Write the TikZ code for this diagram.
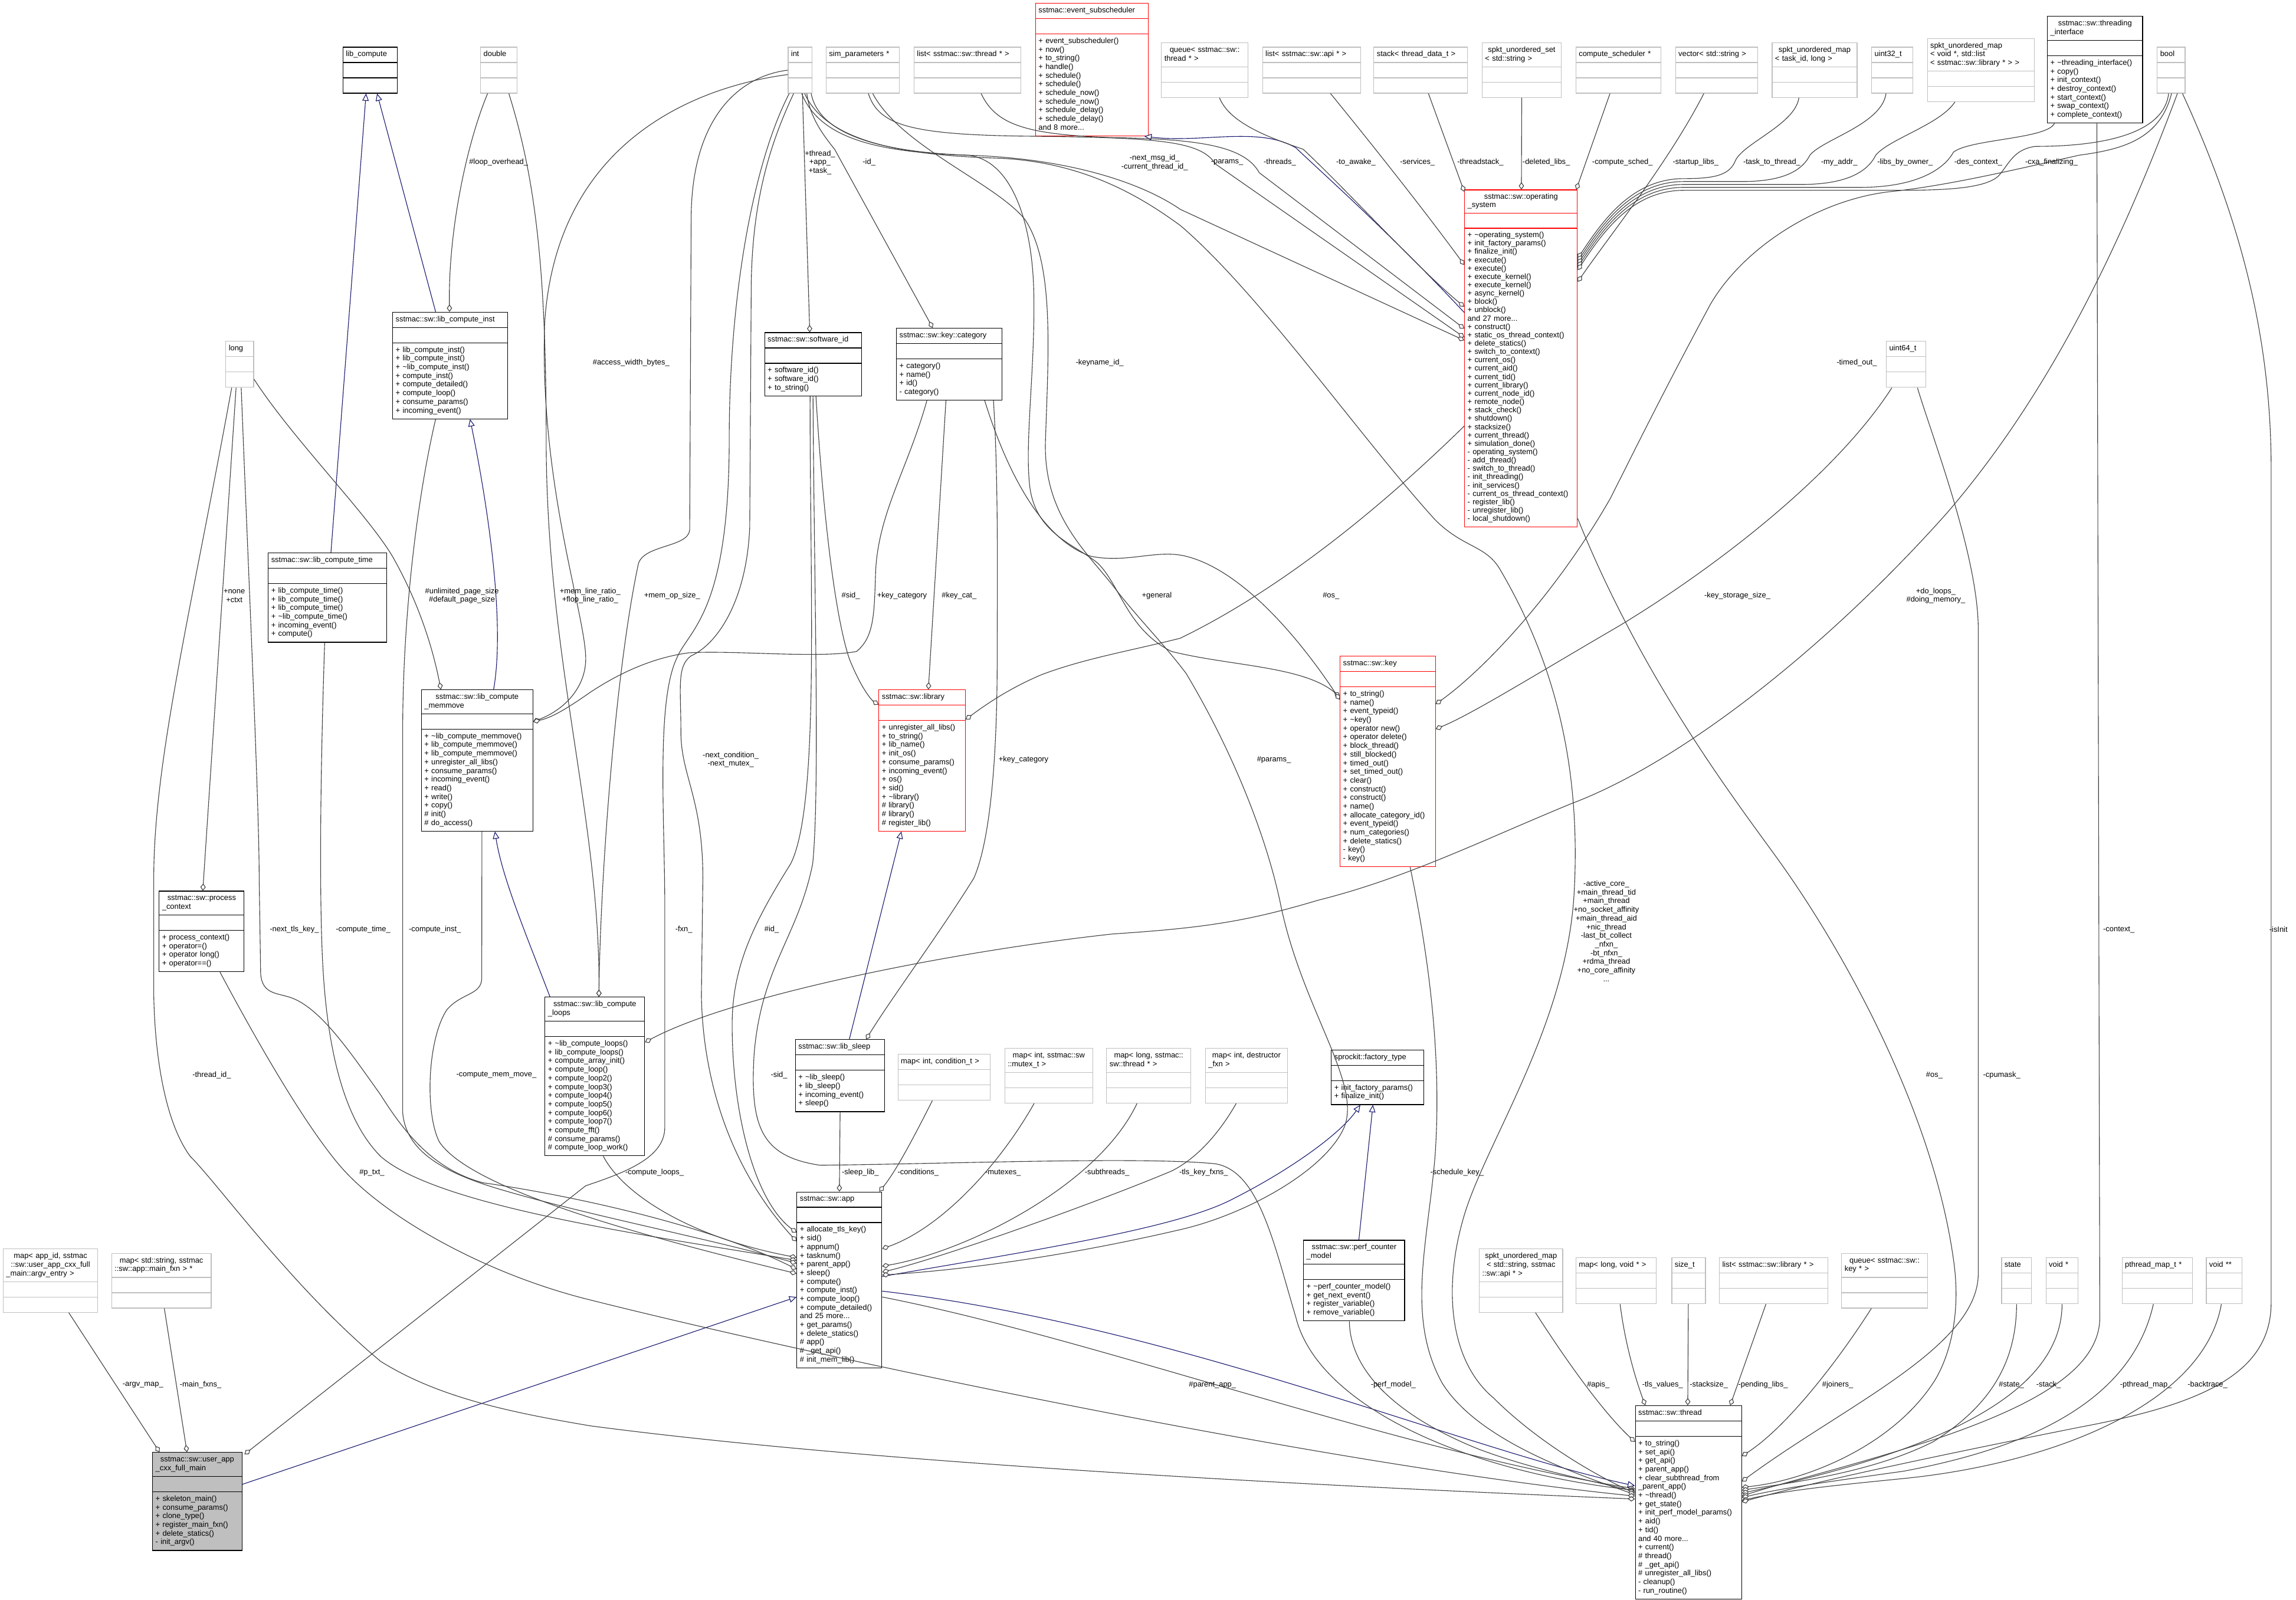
\documentclass[tikz,border=0pt]{standalone}
\usepackage{fontspec}
\setmainfont{Liberation Sans}
\usetikzlibrary{arrows.meta, shapes.multipart, calc}

\definecolor{edgegray}{RGB}{64,64,64}
\definecolor{inhblue}{RGB}{25,25,112}
\definecolor{extgray}{RGB}{191,191,191}
\definecolor{truncred}{RGB}{255,0,0}
\definecolor{focusgray}{RGB}{191,191,191}
\newcommand{\dtor}{\textasciitilde}
% empty attribute compartment, then the member list
\newcommand{\members}{\nodepart{second}\strut\nodepart{third}\strut}

\begin{document}
\begin{tikzpicture}[x=1pt, y=-1pt,
    every node/.style={font=\fontsize{5.2}{5.92}\selectfont},
    cls/.style={rectangle split, rectangle split parts=3, draw=black,
        line width=0.45pt, anchor=north west, inner xsep=2pt, inner ysep=2.05pt,
        text width={(#1-4)*1pt}, align=left,
        execute at begin node=\strut, execute at end node=\strut},
    ext/.style={cls=#1, draw=extgray},
    trunc/.style={cls=#1, draw=truncred},
    focus/.style={cls=#1, fill=focusgray},
    lbl/.style={align=center, inner sep=0pt},
    use/.style={draw=edgegray, line width=0.45pt,
        -{Diamond[fill=white, length=5pt, width=3.6pt]}},
    inh/.style={draw=inhblue, line width=0.45pt,
        -{Triangle[fill=white, length=5pt, width=4.4pt]}}
]
\fill[white] (0,0) rectangle (1568,1093);
\useasboundingbox (0,0) rectangle (1568,1093);

% top row
\node[cls=37] (libcomp) at (234,32) {\centering lib\_compute \members};
\node[ext=25] (dbl) at (328,32) {\centering double \members};
\node[ext=16.5] (int) at (538,32) {\centering int \members};
\node[ext=50] (simp) at (564,32) {\centering sim\_parameters * \members};
\node[ext=73] (lthread) at (624,32) {\centering list< sstmac::sw::thread * > \members};
\node[trunc=77] (evsub) at (707,2) {\centering sstmac::event\_subscheduler \members
    + event\_subscheduler()\\+ now()\\+ to\_string()\\+ handle()\\+ schedule()\\+ schedule()\\+ schedule\_now()\\+ schedule\_now()\\+ schedule\_delay()\\+ schedule\_delay()\\and 8 more...};
\node[ext=59] (qthread) at (793,29) {\centering queue< sstmac::sw::\\thread * > \members};
\node[ext=67] (lapi) at (862,32) {\centering list< sstmac::sw::api * > \members};
\node[ext=64] (stk) at (938,32) {\centering stack< thread\_data\_t > \members};
\node[ext=54] (uset) at (1012,29) {\centering spkt\_unordered\_set\\< std::string > \members};
\node[ext=58] (csched) at (1076,32) {\centering compute\_scheduler * \members};
\node[ext=56] (vecstr) at (1144,32) {\centering vector< std::string > \members};
\node[ext=58] (tmap) at (1210,29) {\centering spkt\_unordered\_map\\< task\_id, long > \members};
\node[ext=28] (u32) at (1278,32) {\centering uint32\_t \members};
\node[ext=73] (lmap) at (1316,26) {spkt\_unordered\_map\\< void *, std::list\\< sstmac::sw::library * > > \members};
\node[cls=65] (tif) at (1398,11) {\centering sstmac::sw::threading\\\_interface \members
    + \dtor threading\_interface()\\+ copy()\\+ init\_context()\\+ destroy\_context()\\+ start\_context()\\+ swap\_context()\\+ complete\_context()};
\node[ext=19] (bool) at (1473,32) {\centering bool \members};

% middle
\node[cls=78.5] (inst) at (268,213) {\centering sstmac::sw::lib\_compute\_inst \members
    + lib\_compute\_inst()\\+ lib\_compute\_inst()\\+ \dtor lib\_compute\_inst()\\+ compute\_inst()\\+ compute\_detailed()\\+ compute\_loop()\\+ consume\_params()\\+ incoming\_event()};
\node[ext=19] (long) at (154,233) {\centering long \members};
\node[cls=66] (swid) at (522,227) {\centering sstmac::sw::software\_id \members
    + software\_id()\\+ software\_id()\\+ to\_string()};
\node[cls=72] (cat) at (612,224) {\centering sstmac::sw::key::category \members
    + category()\\+ name()\\+ id()\\- category()};
\node[trunc=77, font=\fontsize{5.2}{5.7}\selectfont] (os) at (1000,129.5) {\centering sstmac::sw::operating\\\_system \members
    + \dtor operating\_system()\\+ init\_factory\_params()\\+ finalize\_init()\\+ execute()\\+ execute()\\+ execute\_kernel()\\+ execute\_kernel()\\+ async\_kernel()\\+ block()\\+ unblock()\\and 27 more...\\+ construct()\\+ static\_os\_thread\_context()\\+ delete\_statics()\\+ switch\_to\_context()\\+ current\_os()\\+ current\_aid()\\+ current\_tid()\\+ current\_library()\\+ current\_node\_id()\\+ remote\_node()\\+ stack\_check()\\+ shutdown()\\+ stacksize()\\+ current\_thread()\\+ simulation\_done()\\- operating\_system()\\- add\_thread()\\- switch\_to\_thread()\\- init\_threading()\\- init\_services()\\- current\_os\_thread\_context()\\- register\_lib()\\- unregister\_lib()\\- local\_shutdown()};
\node[ext=27] (u64) at (1288,233) {\centering uint64\_t \members};
\node[cls=81] (ctime) at (183,377.5) {\centering sstmac::sw::lib\_compute\_time \members
    + lib\_compute\_time()\\+ lib\_compute\_time()\\+ lib\_compute\_time()\\+ \dtor lib\_compute\_time()\\+ incoming\_event()\\+ compute()};
\node[cls=76] (memmove) at (287.6,471) {\centering sstmac::sw::lib\_compute\\\_memmove \members
    + \dtor lib\_compute\_memmove()\\+ lib\_compute\_memmove()\\+ lib\_compute\_memmove()\\+ unregister\_all\_libs()\\+ consume\_params()\\+ incoming\_event()\\+ read()\\+ write()\\+ copy()\\\# init()\\\# do\_access()};
\node[trunc=59] (lib) at (600,471) {\centering sstmac::sw::library \members
    + unregister\_all\_libs()\\+ to\_string()\\+ lib\_name()\\+ init\_os()\\+ consume\_params()\\+ incoming\_event()\\+ os()\\+ sid()\\+ \dtor library()\\\# library()\\\# library()\\\# register\_lib()};
\node[trunc=65] (key) at (915,448) {\centering sstmac::sw::key \members
    + to\_string()\\+ name()\\+ event\_typeid()\\+ \dtor key()\\+ operator new()\\+ operator delete()\\+ block\_thread()\\+ still\_blocked()\\+ timed\_out()\\+ set\_timed\_out()\\+ clear()\\+ construct()\\+ construct()\\+ name()\\+ allocate\_category\_id()\\+ event\_typeid()\\+ num\_categories()\\+ delete\_statics()\\- key()\\- key()};
\node[cls=58] (pctx) at (108.5,608.5) {\centering sstmac::sw::process\\\_context \members
    + process\_context()\\+ operator=()\\+ operator long()\\+ operator==()};
\node[cls=68] (loops) at (372,681) {\centering sstmac::sw::lib\_compute\\\_loops \members
    + \dtor lib\_compute\_loops()\\+ lib\_compute\_loops()\\+ compute\_array\_init()\\+ compute\_loop()\\+ compute\_loop2()\\+ compute\_loop3()\\+ compute\_loop4()\\+ compute\_loop5()\\+ compute\_loop6()\\+ compute\_loop7()\\+ compute\_fft()\\\# consume\_params()\\\# compute\_loop\_work()};
\node[cls=61] (sleep) at (543,710) {\centering sstmac::sw::lib\_sleep \members
    + \dtor lib\_sleep()\\+ lib\_sleep()\\+ incoming\_event()\\+ sleep()};
\node[ext=63] (mcond) at (613,720) {\centering map< int, condition\_t > \members};
\node[ext=60] (mmutex) at (686,716) {\centering map< int, sstmac::sw\\::mutex\_t > \members};
\node[ext=57.5] (mthr) at (755.5,716) {\centering map< long, sstmac::\\sw::thread * > \members};
\node[ext=56] (mdtor) at (823,716) {\centering map< int, destructor\\\_fxn > \members};
\node[cls=63] (factory) at (909,717) {\centering sprockit::factory\_type \members
    + init\_factory\_params()\\+ finalize\_init()};
\node[cls=58] (app) at (544,814) {\centering sstmac::sw::app \members
    + allocate\_tls\_key()\\+ sid()\\+ appnum()\\+ tasknum()\\+ parent\_app()\\+ sleep()\\+ compute()\\+ compute\_inst()\\+ compute\_loop()\\+ compute\_detailed()\\and 25 more...\\+ get\_params()\\+ delete\_statics()\\\# app()\\\# \_get\_api()\\\# init\_mem\_lib()};
\node[cls=69] (perf) at (890,847) {\centering sstmac::sw::perf\_counter\\\_model \members
    + \dtor perf\_counter\_model()\\+ get\_next\_event()\\+ register\_variable()\\+ remove\_variable()};

% bottom row
\node[ext=64.5] (argvmap) at (2,853) {\centering map< app\_id, sstmac\\::sw::user\_app\_cxx\_full\\\_main::argv\_entry > \members};
\node[ext=68] (mainfxns) at (76,856) {\centering map< std::string, sstmac\\::sw::app::main\_fxn > * \members};
\node[ext=57] (apimap) at (1010,853) {\centering spkt\_unordered\_map\\< std::string, sstmac\\::sw::api * > \members};
\node[ext=55] (tlsmap) at (1076,859) {\centering map< long, void * > \members};
\node[ext=23] (sizet) at (1141.5,859) {\centering size\_t \members};
\node[ext=74] (llib) at (1174,859) {\centering list< sstmac::sw::library * > \members};
\node[ext=58.5] (qkey) at (1257.5,856) {\centering queue< sstmac::sw::\\key * > \members};
\node[ext=20.5] (state) at (1366.7,859) {\centering state \members};
\node[ext=22] (vptr) at (1397,859) {\centering void * \members};
\node[ext=48] (pmap) at (1449,859) {\centering pthread\_map\_t * \members};
\node[ext=24.5] (vpp) at (1506.5,859) {\centering void ** \members};
\node[focus=61] (userapp) at (104,992) {\centering sstmac::sw::user\_app\\\_cxx\_full\_main \members
    + skeleton\_main()\\+ consume\_params()\\+ clone\_type()\\+ register\_main\_fxn()\\+ delete\_statics()\\- init\_argv()};
\node[cls=72.5] (thread) at (1116.6,960) {\centering sstmac::sw::thread \members
    + to\_string()\\+ set\_api()\\+ get\_api()\\+ parent\_app()\\+ clear\_subthread\_from\\\_parent\_app()\\+ \dtor thread()\\+ get\_state()\\+ init\_perf\_model\_params()\\+ aid()\\+ tid()\\and 40 more...\\+ current()\\\# thread()\\\# \_get\_api()\\\# unregister\_all\_libs()\\- cleanup()\\- run\_routine()};

% inheritance
\draw[inh] ($(inst.north west)+(29.5,0)$) -- ($(libcomp.south west)+(23.5,0)$);
\draw[inh] ($(ctime.north west)+(43,0)$) -- ($(libcomp.south west)+(16,0)$);
\draw[inh] ($(memmove.north west)+(49.5,0)$) .. controls (346,420) and (330,330) .. ($(inst.south west)+(53,0)$);
\draw[inh] ($(loops.north west)+(3.6,0)$) .. controls (360,640) and (343,600) .. ($(memmove.south west)+(50.4,0)$);
\draw[inh] ($(sleep.north west)+(37,0)$) -- ($(lib.south west)+(15.6,0)$);
\draw[inh] ($(os.north west)+(0,84)$) .. controls (950,160) and (905,120) .. (885,101) .. controls (860,86) and (820,98) .. ($(evsub.south east)+(-3,0)$);
\draw[inh] ($(app.north east)+(0,58)$) .. controls (700,855) and (800,840) .. (840,820) .. controls (880,800) and (915,775) .. ($(factory.south west)+(20,0)$);
\draw[inh] ($(perf.north west)+(38,0)$) -- ($(factory.south west)+(28.6,0)$);
\draw[inh] ($(app.north east)+(0,68)$) .. controls (800,905) and (1000,990) .. ($(thread.north west)+(0,55)$);
\draw[inh] ($(userapp.north east)+(0,22)$) -- ($(app.north west)+(0,72)$);

% members of lib_compute classes
\draw[use] ($(dbl.south west)+(5,0)$) .. controls (318,100) and (306,160) .. ($(inst.north west)+(39,0)$);
\draw[use] ($(dbl.south west)+(19.5,0)$) .. controls (365,120) and (373,180) .. (373,300) .. controls (373,450) and (410,560) .. ($(loops.north west)+(37,0)$);
\draw[use] (int.west) .. controls (505,52) and (472,80) .. (472,150) -- (471,362) .. controls (470,374) and (440,372) .. (436,385) .. controls (420,460) and (410,600) .. ($(loops.north west)+(37,0)$);
\draw[use] ($(int.west)+(0,3)$) .. controls (470,60) and (380,100) .. (372,220) .. controls (368,330) and (400,420) .. (400,450) .. controls (400,470) and (385,485) .. ($(memmove.north east)+(0,22)$);
\draw[use] ($(long.north east)+(0,26)$) .. controls (200,300) and (250,350) .. (268,380) .. controls (285,410) and (295,440) .. ($(memmove.north west)+(13.5,0)$);
\draw[use] ($(cat.south west)+(21,0)$) .. controls (620,320) and (600,350) .. (598,390) .. controls (597,420) and (597,435) .. (585,445) .. controls (560,450) and (500,444) .. (470,446) .. controls (440,450) and (415,465) .. (403,473) .. controls (390,482) and (378,490) .. ($(memmove.north east)+(0,22)$);
\draw[use] ($(bool.south west)+(14,0)$) .. controls (1440,190) and (1390,280) .. (1330,350) .. controls (1250,440) and (1150,520) .. (1073,549) .. controls (1010,575) and (960,600) .. (900,615) .. controls (850,630) and (820,634) .. (760,638) .. controls (650,650) and (500,680) .. ($(loops.north east)+(0,31)$);

% software_id, category, library, key
\draw[use] ($(int.south west)+(10,0)$) -- ($(swid.north west)+(31,0)$);
\draw[use] ($(int.south west)+(13,0)$) .. controls (553,80) and (562,92) .. (570,102) -- ($(cat.north west)+(25,0)$);
\draw[use] ($(int.south east)+(-1,0)$) .. controls (560,95) and (610,104) .. (660,106) .. controls (690,108) and (705,150) .. (706,200) .. controls (707,250) and (700,300) .. (703,330) .. controls (706,365) and (735,372) .. (750,385) .. controls (765,400) and (770,430) .. (800,445) .. controls (840,455) and (890,455) .. ($(key.north west)+(0,28)$);
\draw[use] ($(swid.south)+(2,0)$) .. controls (562,350) and (570,420) .. (580,450) .. controls (588,470) and (595,478) .. ($(lib.north west)+(0,10.5)$);
\draw[use] ($(cat.south west)+(34,0)$) -- ($(lib.north west)+(34,0)$);
\draw[use] ($(cat.south east)+(-12,0)$) .. controls (690,330) and (715,370) .. (745,380) .. controls (770,385) and (790,375) .. (810,380) .. controls (850,390) and (890,440) .. ($(key.north west)+(0,30)$);
\draw[use] ($(cat.south east)+(-6,0)$) .. controls (682,330) and (681,400) .. (681,450) .. controls (681,520) and (676,575) .. (665,600) .. controls (640,640) and (610,680) .. ($(sleep.north east)+(-13,0)$);
\draw[use] ($(os.north west)+(0,161.5)$) .. controls (950,340) and (880,400) .. (806,436) .. controls (770,445) and (740,450) .. (711,461) .. controls (690,470) and (675,480) .. ($(lib.north east)+(0,20.5)$);
\draw[use] ($(bool.south west)+(10,0)$) .. controls (1475,95) and (1450,102) .. (1420,106) .. controls (1380,115) and (1330,127) .. (1290,131) .. controls (1240,137) and (1190,170) .. (1168,208) .. controls (1140,260) and (1120,300) .. (1100,340) .. controls (1060,410) and (1010,460) .. ($(key.north east)+(0,33)$);
\draw[use] ($(u64.south west)+(4,0)$) .. controls (1250,330) and (1160,395) .. (1105,428) .. controls (1050,460) and (1005,488) .. ($(key.north east)+(0,50)$);

% operating_system members
\draw[use] ($(int.south)+(1,0)$) .. controls (560,95) and (600,104) .. (660,106) .. controls (730,108) and (780,125) .. (806,143) -- ($(os.north west)+(0,103)$);
\draw[use] ($(simp.south west)+(29,0)$) .. controls (600,85) and (620,92) .. (700,93) .. controls (790,94) and (820,96) .. (830,112) -- ($(os.north west)+(0,101)$);
\draw[use] ($(lthread.south west)+(46,0)$) .. controls (680,85) and (700,92) .. (760,94) .. controls (820,95) and (850,100) .. (860,118) -- ($(os.north west)+(0,95)$);
\draw[use] ($(qthread.south west)+(39.8,0)$) .. controls (840,85) and (870,95) .. (890,102) .. controls (920,130) and (970,185) .. ($(os.north west)+(0,80)$);
\draw[use] ($(lapi.south west)+(46.6,0)$) .. controls (930,90) and (970,140) .. ($(os.north west)+(0,51.5)$);
\draw[use] ($(stk.south west)+(37.5,0)$) -- ($(os.north west)+(0,1.5)$);
\draw[use] (uset.south) -- ($(os.north west)+(39,0)$);
\draw[use] ($(csched.south west)+(23.5,0)$) -- ($(os.north east)+(-1,0)$);
\draw[use] ($(vecstr.south west)+(19.6,0)$) .. controls (1140,110) and (1100,160) .. ($(os.north east)+(0,63)$);
\draw[use] ($(tmap.south west)+(18.5,0)$) .. controls (1226,85) and (1190,98) .. (1185,110) .. controls (1181,120) and (1170,122) .. (1150,122) .. controls (1115,122) and (1095,150) .. ($(os.north east)+(0,47)$);
\draw[use] ($(u32.south west)+(10,0)$) .. controls (1285,85) and (1245,95) .. (1236,106) .. controls (1230,118) and (1215,124) .. (1190,124) -- (1150,124) .. controls (1115,124) and (1095,152) .. ($(os.north east)+(0,49)$);
\draw[use] ($(lmap.south west)+(19,0)$) .. controls (1325,85) and (1290,95) .. (1281,106) .. controls (1275,118) and (1260,126) .. (1230,126) -- (1150,126) .. controls (1115,126) and (1095,154) .. ($(os.north east)+(0,51)$);
\draw[use] ($(tif.south west)+(5,0)$) .. controls (1398,95) and (1345,95) .. (1334,104) .. controls (1328,115) and (1310,128) .. (1270,128) -- (1150,128) .. controls (1115,128) and (1095,156) .. ($(os.north east)+(0,53)$);
\draw[use] ($(bool.south west)+(8,0)$) .. controls (1478,90) and (1440,100) .. (1390,100) .. controls (1375,102) and (1372,112) .. (1365,120) .. controls (1355,130) and (1320,130) .. (1290,130) -- (1150,130) .. controls (1115,130) and (1095,158) .. ($(os.north east)+(0,55)$);

% members of app
\draw[use] ($(swid.south)+(-2,0)$) .. controls (553,400) and (560,550) .. (540,590) .. controls (515,630) and (500,660) .. (500,700) .. controls (500,760) and (515,820) .. ($(app.north west)+(0,28)$);
\draw[use] ($(int.south west)+(4,0)$) .. controls (525,100) and (513,140) .. (513,200) -- (512,360) .. controls (510,410) and (490,440) .. (472,448) .. controls (462,455) and (465,470) .. (465,500) .. controls (465,530) and (480,545) .. (480,600) -- (479,680) .. controls (480,740) and (500,800) .. ($(app.north west)+(0,34)$);
\draw[use] ($(loops.south west)+(40,0)$) .. controls (425,815) and (470,845) .. ($(app.north west)+(0,45)$);
\draw[use] ($(ctime.south)+(-2,0)$) .. controls (219,520) and (218,600) .. (220,650) .. controls (222,700) and (230,760) .. (260,790) .. controls (300,825) and (450,845) .. ($(app.north west)+(0,47)$);
\draw[use] ($(inst.south west)+(29.5,0)$) .. controls (285,340) and (275,420) .. (275,500) -- (275,760) .. controls (277,785) and (300,800) .. (340,812) .. controls (400,830) and (480,845) .. ($(app.north west)+(0,49)$);
\draw[use] ($(long.south)+(1,0)$) .. controls (170,400) and (177,550) .. (177,600) -- (178,665) .. controls (179,680) and (190,678) .. (200,682) .. controls (220,690) and (240,720) .. (260,748) .. controls (280,780) and (300,800) .. (330,808) .. controls (380,815) and (480,835) .. ($(app.north west)+(0,53)$);
\draw[use] ($(memmove.south west)+(41.5,0)$) -- (329,668) .. controls (329,680) and (315,678) .. (305,690) .. controls (292,710) and (290,760) .. (300,780) .. controls (320,810) and (420,840) .. ($(app.north west)+(0,56)$);
\draw[use] (sleep.south) -- (app.north);
\draw[use] ($(mcond.south)+(-8,0)$) .. controls (625,775) and (612,800) .. ($(app.north east)+(-2,0)$);
\draw[use] ($(mmutex.south)+(-10,0)$) .. controls (680,800) and (640,840) .. ($(app.north east)+(0,39)$);
\draw[use] ($(mthr.south)+(-8,0)$) .. controls (750,810) and (660,855) .. ($(app.north east)+(0,51)$);
\draw[use] ($(mdtor.south)+(-7,0)$) .. controls (835,770) and (820,790) .. (800,800) .. controls (740,825) and (640,860) .. ($(app.north east)+(0,55)$);
\draw[use] ($(simp.south west)+(32,0)$) .. controls (615,100) and (680,125) .. (700,150) .. controls (720,180) and (716,240) .. (714,300) .. controls (712,350) and (740,375) .. (760,400) .. controls (775,420) and (795,440) .. (810,460) .. controls (840,510) and (865,570) .. (875,620) .. controls (890,690) and (930,740) .. (918,770) .. controls (905,800) and (850,830) .. (806,840) .. controls (720,860) and (650,868) .. ($(app.north east)+(0,57)$);

% members of user_app_cxx_full_main
\draw[use] ($(argvmap.south)+(12.5,0)$) -- ($(userapp.north west)+(5,0)$);
\draw[use] ($(mainfxns.south)+(2,0)$) -- ($(userapp.north west)+(23.7,0)$);
\draw[use] ($(int.south west)+(1,0)$) .. controls (515,110) and (498,200) .. (498,300) .. controls (498,420) and (470,430) .. (462,450) .. controls (448,480) and (454,560) .. (454,620) -- (454,770) .. controls (454,790) and (430,800) .. (400,810) -- ($(userapp.north east)+(1.5,1.5)$);
\draw[use] ($(long.south)+(-2.5,0)$) -- ($(pctx.north west)+(30,0)$);

% members of thread, left side
\draw[use] ($(app.north east)+(0,72)$) .. controls (750,915) and (950,990) .. ($(thread.north west)+(0,57)$);
\draw[use] ($(swid.south)+(0,0)$) .. controls (556,400) and (560,540) .. (555,590) .. controls (545,640) and (520,660) .. (515,720) .. controls (512,770) and (520,790) .. (560,796) .. controls (650,795) and (780,790) .. (830,795) .. controls (860,800) and (870,850) .. (885,900) .. controls (900,960) and (1000,1005) .. ($(thread.north west)+(0,58)$);
\draw[use] ($(perf.south west)+(31.5,0)$) .. controls (922,940) and (960,970) .. (1010,990) .. controls (1050,1005) and (1090,1012) .. ($(thread.north west)+(0,59)$);
\draw[use] ($(int.south)+(3,0)$) .. controls (565,98) and (620,106) .. (680,108) .. controls (740,110) and (780,135) .. (806,154) .. controls (860,200) and (930,300) .. (980,355) .. controls (1000,375) and (1015,372) .. (1025,390) .. controls (1060,450) and (1080,520) .. (1075,610) .. controls (1070,700) and (1015,780) .. (1000,830) .. controls (985,880) and (990,930) .. (1020,955) .. controls (1050,985) and (1090,1008) .. ($(thread.north west)+(0,60)$);
\draw[use] ($(key.south west)+(48,0)$) .. controls (975,650) and (985,720) .. (980,790) .. controls (975,850) and (960,900) .. (985,945) .. controls (1010,985) and (1080,1008) .. ($(thread.north west)+(0,61)$);
\draw[use] ($(pctx.south)+(12.5,0)$) .. controls (180,720) and (210,770) .. (231,795) .. controls (260,830) and (330,870) .. (403,888) .. controls (550,925) and (900,1000) .. ($(thread.north west)+(0,62)$);
\draw[use] ($(long.south)+(-5.5,0)$) .. controls (130,420) and (105,520) .. (105,600) -- (105,680) .. controls (106,730) and (115,770) .. (130,790) .. controls (150,810) and (200,880) .. (260,930) .. controls (300,955) and (350,965) .. (403,974) .. controls (600,1000) and (900,1015) .. ($(thread.north west)+(0,64)$);
\draw[use] ($(apimap.south west)+(38.6,0)$) .. controls (1070,930) and (1095,965) .. ($(thread.north west)+(0,25)$);

% members of thread, top and right side
\draw[use] ($(tlsmap.south west)+(30.4,0)$) .. controls (1110,920) and (1118,945) .. ($(thread.north west)+(7,0)$);
\draw[use] ($(sizet.south west)+(11.5,0)$) -- ($(thread.north west)+(36,0)$);
\draw[use] ($(llib.south west)+(32,0)$) -- ($(thread.north west)+(65,0)$);
\draw[use] ($(qkey.south west)+(20.5,0)$) .. controls (1255,930) and (1220,975) .. ($(thread.north east)+(0,34.7)$);
\draw[use] ($(os.south east)+(0,-6)$) .. controls (1120,460) and (1180,540) .. (1212,584) .. controls (1260,650) and (1320,760) .. (1334,860) .. controls (1340,900) and (1330,930) .. (1320,945) .. controls (1290,990) and (1230,1012) .. ($(thread.north east)+(0,56)$);
\draw[use] ($(u64.south east)+(-6,0)$) .. controls (1320,300) and (1351,380) .. (1351,430) -- (1351,870) .. controls (1351,920) and (1260,960) .. ($(thread.north east)+(0,52)$);
\draw[use] (state.south) .. controls (1377,930) and (1360,960) .. (1320,985) .. controls (1280,1005) and (1230,1012) .. ($(thread.north east)+(0,58)$);
\draw[use] (vptr.south) .. controls (1408,950) and (1330,990) .. ($(thread.north east)+(0,60)$);
\draw[use] ($(tif.south west)+(34,0)$) -- (1434,900) .. controls (1434,935) and (1390,960) .. (1322,983) .. controls (1260,1003) and (1220,1012) .. ($(thread.north east)+(0,62)$);
\draw[use] ($(pmap.south west)+(21.6,0)$) .. controls (1455,960) and (1380,990) .. (1300,1005) .. controls (1250,1012) and (1220,1016) .. ($(thread.north east)+(0,63)$);
\draw[use] ($(vpp.south west)+(10.5,0)$) .. controls (1505,960) and (1400,1000) .. (1300,1010) .. controls (1250,1015) and (1220,1018) .. ($(thread.north east)+(0,65)$);
\draw[use] ($(bool.south east)+(-2,0)$) .. controls (1530,150) and (1551,230) .. (1551,320) -- (1551,890) .. controls (1551,940) and (1500,960) .. (1420,975) .. controls (1320,995) and (1240,1012) .. ($(thread.north east)+(0,66)$);

% edge labels
\node[lbl] (l-loopov) at (340.5,111) {\#loop\_overhead\_};
\node[lbl] (l-thrapp) at (560,111) {+thread\_\\+app\_\\+task\_};
\node[lbl] (l-id) at (593.5,111) {-id\_};
\node[lbl] (l-msgid) at (788.5,111) {-next\_msg\_id\_\\-current\_thread\_id\_};
\node[lbl] (l-params) at (838,111) {-params\_};
\node[lbl] (l-threads) at (874,111) {-threads\_};
\node[lbl] (l-toawake) at (926,111) {-to\_awake\_};
\node[lbl] (l-services) at (968,111) {-services\_};
\node[lbl] (l-tstack) at (1011,111) {-threadstack\_};
\node[lbl] (l-dellibs) at (1056,111) {-deleted\_libs\_};
\node[lbl] (l-csched) at (1108,111) {-compute\_sched\_};
\node[lbl] (l-startup) at (1158,111) {-startup\_libs\_};
\node[lbl] (l-t2t) at (1210,111) {-task\_to\_thread\_};
\node[lbl] (l-myaddr) at (1256,111) {-my\_addr\_};
\node[lbl] (l-libsown) at (1301,111) {-libs\_by\_owner\_};
\node[lbl] (l-desctx) at (1351,111) {-des\_context\_};
\node[lbl] (l-cxa) at (1401,111) {-cxa\_finalizing\_};
\node[lbl] (l-access) at (431,248) {\#access\_width\_bytes\_};
\node[lbl] (l-keyname) at (751,248) {-keyname\_id\_};
\node[lbl] (l-timedout) at (1268,248) {-timed\_out\_};
\node[lbl] (l-none) at (160,407) {+none\\+ctxt};
\node[lbl] (l-page) at (315.5,407) {\#unlimited\_page\_size\\\#default\_page\_size};
\node[lbl] (l-ratio) at (403,407) {+mem\_line\_ratio\_\\+flop\_line\_ratio\_};
\node[lbl] (l-opsize) at (459,407) {+mem\_op\_size\_};
\node[lbl] (l-sidlib) at (581,407) {\#sid\_};
\node[lbl] (l-keycat1) at (616,407) {+key\_category};
\node[lbl] (l-keycat) at (655,407) {\#key\_cat\_};
\node[lbl] (l-general) at (790,407) {+general};
\node[lbl] (l-oslib) at (909,407) {\#os\_};
\node[lbl] (l-kstore) at (1186.5,407) {-key\_storage\_size\_};
\node[lbl] (l-doloops) at (1322,407) {+do\_loops\_\\\#doing\_memory\_};
\node[lbl] (l-nextcond) at (499,519) {-next\_condition\_\\-next\_mutex\_};
\node[lbl] (l-keycat2) at (699,519) {+key\_category};
\node[lbl] (l-paramsapp) at (870,519) {\#params\_};
\node[lbl] (l-tlskey) at (201,635) {-next\_tls\_key\_};
\node[lbl] (l-ctime) at (248,635) {-compute\_time\_};
\node[lbl] (l-cinst) at (297,635) {-compute\_inst\_};
\node[lbl] (l-fxn) at (467,635) {-fxn\_};
\node[lbl] (l-idthr) at (527,635) {\#id\_};
\node[lbl] (l-active) at (1097,636) {-active\_core\_\\+main\_thread\_tid\\+main\_thread\\+no\_socket\_affinity\\+main\_thread\_aid\\+nic\_thread\\-last\_bt\_collect\\\_nfxn\_\\-bt\_nfxn\_\\+rdma\_thread\\+no\_core\_affinity\\...};
\node[lbl] (l-context) at (1447,635) {-context\_};
\node[lbl] (l-isinit) at (1556,635) {-isInit};
\node[lbl] (l-thrid) at (144.6,734.5) {-thread\_id\_};
\node[lbl] (l-memmove) at (339,734.5) {-compute\_mem\_move\_};
\node[lbl] (l-sidapp) at (532,734.5) {-sid\_};
\node[lbl] (l-osthr) at (1321,734.5) {\#os\_};
\node[lbl] (l-cpumask) at (1367,734.5) {-cpumask\_};
\node[lbl] (l-ptxt) at (254,801) {\#p\_txt\_};
\node[lbl] (l-cloops) at (447,801) {-compute\_loops\_};
\node[lbl] (l-sleeplib) at (587.5,801) {-sleep\_lib\_};
\node[lbl] (l-conds) at (627,801) {-conditions\_};
\node[lbl] (l-mutexes) at (685,801) {-mutexes\_};
\node[lbl] (l-subthr) at (756,801) {-subthreads\_};
\node[lbl] (l-tlsfxns) at (822,801) {-tls\_key\_fxns\_};
\node[lbl] (l-schedkey) at (995,801) {-schedule\_key\_};
\node[lbl] (l-argv) at (97.6,946) {-argv\_map\_};
\node[lbl] (l-mainfxns) at (137,946) {-main\_fxns\_};
\node[lbl] (l-parent) at (828,946) {\#parent\_app\_};
\node[lbl] (l-perf) at (951.5,946) {-perf\_model\_};
\node[lbl] (l-apis) at (1091.5,946) {\#apis\_};
\node[lbl] (l-tlsval) at (1135.4,946) {-tls\_values\_};
\node[lbl] (l-stacksize) at (1167,946) {-stacksize\_};
\node[lbl] (l-pending) at (1204,946) {-pending\_libs\_};
\node[lbl] (l-joiners) at (1255,946) {\#joiners\_};
\node[lbl] (l-state) at (1373.6,946) {\#state\_};
\node[lbl] (l-stack) at (1399,946) {-stack\_};
\node[lbl] (l-pmap) at (1465.5,946) {-pthread\_map\_};
\node[lbl] (l-bt) at (1507.6,946) {-backtrace\_};
\end{tikzpicture}
\end{document}
